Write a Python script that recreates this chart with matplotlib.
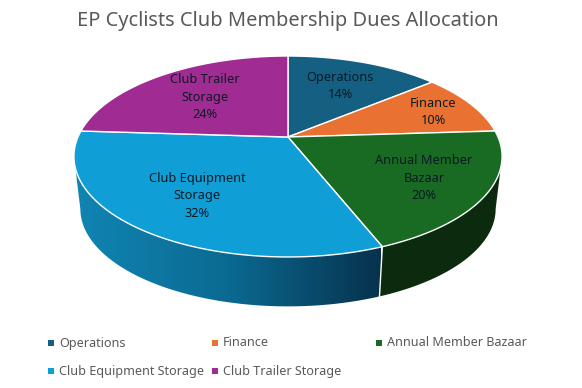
import matplotlib
matplotlib.use('Agg')
import matplotlib.pyplot as plt
from matplotlib.colors import LinearSegmentedColormap
from matplotlib.patches import Polygon
import numpy as np

title = 'EP Cyclists Club Membership Dues Allocation'
categories = ['Operations', 'Finance', 'Annual Member Bazaar', 'Club Equipment Storage', 'Club Trailer Storage']
shares = [14, 10, 20, 32, 24]
slice_labels = ['Operations\n14%', 'Finance\n10%', 'Annual Member\nBazaar\n20%',
                'Club Equipment\nStorage\n32%', 'Club Trailer\nStorage\n24%']
colors = ['#156082', '#E97132', '#196B24', '#0F9ED5', '#A02B93']

# label centres and legend slots, in pixels
label_pos = [(340, 86), (433, 112), (424, 178), (197, 196), (205, 97)]
legend_pos = [(51, 343), (215, 343), (379, 343), (51, 371), (215, 371)]

FONT = 'Noto Sans'
TILT = 0.194


def project(theta, scale=1.0, drop=0.0):
    """Tilted circle -> picture pixels, far edge is smaller than the near one"""
    w = 1 + TILT * np.cos(theta)
    x = 288 + scale * 210 * np.sin(theta) / w
    y = 137 + drop - scale * 96.7 * np.cos(theta) / w
    return np.column_stack([x, y])


def wall(t0, t1):
    """Outer wall of the disc between two angles"""
    t = np.linspace(t0, t1, 120)
    return np.vstack([project(t), project(t[::-1], 0.97, 53)])


fig = plt.figure(figsize=(5.82, 3.88), dpi=100)
ax = fig.add_axes([0, 0, 1, 1])

edges = np.cumsum([0] + shares) / sum(shares) * 2 * np.pi

# the wall is only visible between the widest points of the ellipse
side = np.arccos(-TILT)

# bazaar wall is flat dark, equipment wall has a left to right gradient
ax.add_patch(Polygon(wall(side, edges[3]), closed=True, facecolor='#0C2B0E', edgecolor='none', zorder=2))

equip = wall(edges[3], 2 * np.pi - side)
shade = LinearSegmentedColormap.from_list('equip', ['#1085B3', '#0B6A92', '#07324D'])
grad = np.linspace(0, 1, 300)[None, :]
im = ax.imshow(grad, cmap=shade, aspect='auto', zorder=2, extent=[74, 381, 310, 130])
im.set_clip_path(Polygon(equip, closed=True, transform=ax.transData))

seam = np.vstack([project(edges[3:4]), project(edges[3:4], 0.97, 53)])
ax.plot(seam[:, 0], seam[:, 1], color='white', lw=1, zorder=3)

# top of the disc
for i, c in enumerate(colors):
    t = np.linspace(edges[i], edges[i + 1], 120)
    pts = np.vstack([[[288, 137]], project(t)])
    ax.add_patch(Polygon(pts, closed=True, facecolor=c, edgecolor='white', linewidth=1,
                         joinstyle='round', zorder=4))

for txt, (x, y) in zip(slice_labels, label_pos):
    ax.text(x, y, txt, ha='center', va='center', fontsize=9.2, family=FONT,
            color='#0A1A22', linespacing=1.49, zorder=5)

ax.text(288, 21, title, ha='center', va='center', fontsize=14.4, family=FONT, color='#595959')

for name, c, (x, y) in zip(categories, colors, legend_pos):
    ax.scatter([x], [y], s=16, marker='s', color=c, linewidths=0, zorder=5)
    ax.text(x + 8, y, name, ha='left', va='center', fontsize=9.05, family=FONT, color='#595959')

ax.set_xlim(0, 582)
ax.set_ylim(388, 0)
ax.axis('off')

fig.savefig('out.png', dpi=100, facecolor='white')
